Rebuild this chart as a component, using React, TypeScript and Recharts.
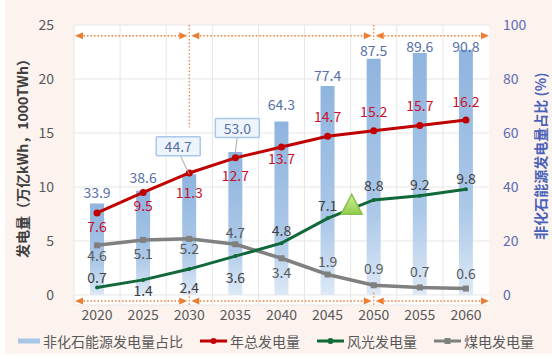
import React from "react";
import {
  Bar,
  CartesianGrid,
  ComposedChart,
  LabelList,
  Legend,
  Line,
  ReferenceLine,
  XAxis,
  YAxis,
} from "recharts";

const years = ["2020", "2025", "2030", "2035", "2040", "2045", "2050", "2055", "2060"];
const nonFossilShare = [33.9, 38.6, 44.7, 53.0, 64.3, 77.4, 87.5, 89.6, 90.8];
const totalGen = [7.6, 9.5, 11.3, 12.7, 13.7, 14.7, 15.2, 15.7, 16.2];
const windSolarGen = [0.7, 1.4, 2.4, 3.6, 4.8, 7.1, 8.8, 9.2, 9.8];
const coalGen = [4.6, 5.1, 5.2, 4.7, 3.4, 1.9, 0.9, 0.7, 0.6];
const leftTicks = [0, 5, 10, 15, 20, 25];
const rightTicks = [0, 20, 40, 60, 80, 100];
const milestones = ["2030", "2050"];

const data = years.map((year, i) => ({
  year,
  share: nonFossilShare[i],
  total: totalGen[i],
  windSolar: windSolarGen[i],
  coal: coalGen[i],
}));

// label nudges (px, text centre relative to the point)
const shareDy = [-11, -14, 0, 0, -17, -11, -9, -7, -4];
const totalDy = [13, 13, 19, 17, 11, -20, -20, -20, -19];
const windDy = [-10, 10, 18, 21, -13, -13, -15, -12, -11];
const coalDy = [10, 13, 9, -12, 14, -13, -17, -16, -16];

const FONT = '"Noto Sans CJK SC", "Microsoft YaHei", sans-serif';
const RED = "#c00000";
const GREEN = "#11693a";
const GRAY = "#808080";
const ORANGE = "#ed7d31";
const BLUE_TXT = "#5670a8";

const makeLineLabel = (dys: number[], color: string) => (props: any) => {
  const { x, y, value, index } = props;
  return (
    <text
      x={x}
      y={y + dys[index]}
      textAnchor="middle"
      dominantBaseline="central"
      fill={color}
      fontSize={14}
      fontFamily={FONT}
    >
      {Number(value).toFixed(1)}
    </text>
  );
};

const ShareLabel = (props: any) => {
  const { x, y, width, value, index } = props;
  const cx = x + width / 2;
  const txt = Number(value).toFixed(1);
  if (index === 2 || index === 3) {
    const bx = cx + (index === 2 ? -11 : 2);
    const by = y + (index === 2 ? -28 : -24);
    return (
      <g>
        <line x1={bx + (index === 2 ? 2 : 0)} y1={by + 9} x2={cx} y2={y} stroke="#a8a8a8" strokeWidth={1} />
        <rect x={bx - 22} y={by - 9.5} width={44} height={19} fill="#eef4fb" stroke="#a9c7ea" strokeWidth={1.5} rx={1} />
        <text x={bx} y={by} textAnchor="middle" dominantBaseline="central" fill={BLUE_TXT} fontSize={14} fontFamily={FONT}>
          {txt}
        </text>
      </g>
    );
  }
  return (
    <text x={cx} y={y + shareDy[index]} textAnchor="middle" dominantBaseline="central" fill={BLUE_TXT} fontSize={14} fontFamily={FONT}>
      {txt}
    </text>
  );
};

const SquareDot = (props: any) => {
  const { cx, cy, index } = props;
  return <rect key={`sq-${index}`} x={cx - 3} y={cy - 3} width={6} height={6} fill={GRAY} />;
};

const arrowHead = (tipX: number, y: number, dir: number, key: string) => (
  <path key={key} d={`M${tipX},${y} L${tipX - dir * 8},${y - 3.5} L${tipX - dir * 8},${y + 3.5} Z`} fill={ORANGE} />
);

// dotted double arrows split at the milestone years
const SpanArrows = (props: any) => {
  const { x1, x2, y1 } = props;
  const band = (x2 - x1) / years.length;
  const cuts = milestones.map((m) => x1 + (years.indexOf(m) + 0.5) * band);
  const pts = [x1 + 1, ...cuts, x2];
  const segs = [];
  for (let i = 0; i < pts.length - 1; i++) {
    const a = pts[i] + (i === 0 ? 0 : 2);
    const b = pts[i + 1] - (i === pts.length - 2 ? 0 : 2);
    segs.push(
      <g key={i}>
        <line x1={a + 5} y1={y1} x2={b - 5} y2={y1} stroke={ORANGE} strokeWidth={1.5} strokeDasharray="1.5 2" />
        {arrowHead(a, y1, -1, "l")}
        {arrowHead(b, y1, 1, "r")}
      </g>
    );
  }
  return <g>{segs}</g>;
};

const Triangle = (props: any) => {
  const { x1, x2, y1 } = props;
  const cx = (x1 + x2) / 2 + 1;
  return (
    <path
      d={`M${cx},${y1 - 11} L${cx + 10.5},${y1 + 9} L${cx - 10.5},${y1 + 9} Z`}
      fill="url(#triFill)"
      stroke="#86c34a"
      strokeWidth={1.5}
    />
  );
};

const LeftTitle = (props: any) => {
  const { viewBox } = props;
  const cx = viewBox.x + 22;
  const cy = viewBox.y + 130;
  return (
    <text
      x={cx}
      y={cy}
      transform={`rotate(-90, ${cx}, ${cy})`}
      textAnchor="middle"
      dominantBaseline="central"
      fill="#404040"
      fontSize={14}
      fontWeight="bold"
      fontFamily={FONT}
    >
      发电量（万亿kWh，1000TWh）
    </text>
  );
};

const RightTitle = (props: any) => {
  const { viewBox } = props;
  const cx = viewBox.x + 51;
  const cy = viewBox.y + 131;
  return (
    <text
      x={cx}
      y={cy}
      transform={`rotate(-90, ${cx}, ${cy})`}
      textAnchor="middle"
      dominantBaseline="central"
      fill="#4a62b8"
      fontSize={14}
      fontWeight="bold"
      fontFamily={FONT}
    >
      非化石能源发电量占比 (%)
    </text>
  );
};

const legendItems = [
  { name: "非化石能源发电量占比", color: "#a9c5e7", kind: "bar" },
  { name: "年总发电量", color: RED, kind: "circle" },
  { name: "风光发电量", color: GREEN, kind: "circle" },
  { name: "煤电发电量", color: GRAY, kind: "square" },
];

const LegendContent = () => (
  <div style={{ display: "flex", alignItems: "center", paddingLeft: 18, gap: 17, fontFamily: FONT, fontSize: 14, color: "#595959" }}>
    {legendItems.map((it) => (
      <div key={it.name} style={{ display: "flex", alignItems: "center" }}>
        <svg width={it.kind === "bar" ? 24 : 29} height={12} style={{ marginRight: 1 }}>
          {it.kind === "bar" ? (
            <rect x={0} y={3.5} width={22} height={5} fill={it.color} />
          ) : (
            <g>
              <line x1={0} y1={6} x2={27} y2={6} stroke={it.color} strokeWidth={3} />
              {it.kind === "circle" ? (
                <circle cx={13.5} cy={6} r={3} fill={it.color} />
              ) : (
                <rect x={10.5} y={3} width={6} height={6} fill={it.color} />
              )}
            </g>
          )}
        </svg>
        <span>{it.name}</span>
      </div>
    ))}
  </div>
);

export default function App() {
  return (
    <div style={{ position: "absolute", left: 0, top: 0, width: 552, height: 359, background: "#ffffff" }}>
      <div style={{ position: "absolute", left: 5, top: 0, width: 547, height: 354, background: "#fcf2ee" }} />
      <div style={{ position: "absolute", left: 0, top: 0 }}>
        <ComposedChart width={552} height={359} data={data} margin={{ top: 25, right: 0, bottom: 6, left: 0 }}>
          <defs>
            <linearGradient id="barFill" x1="0" y1="0" x2="0" y2="1">
              <stop offset="0%" stopColor="#8fb4de" />
              <stop offset="65%" stopColor="#abc8e8" />
              <stop offset="100%" stopColor="#dde9f6" />
            </linearGradient>
            <linearGradient id="triFill" x1="0" y1="0" x2="0" y2="1">
              <stop offset="0%" stopColor="#d3ef9c" />
              <stop offset="100%" stopColor="#92cc4a" />
            </linearGradient>
          </defs>
          <CartesianGrid
            yAxisId="left"
            fill="#ffffff"
            fillOpacity={1}
            stroke="#e6e6e6"
            verticalCoordinatesGenerator={({ offset }: any) =>
              years.map((_, i) => offset.left + (i * offset.width) / years.length)
            }
          />
          <XAxis
            dataKey="year"
            tickLine={false}
            axisLine={false}
            tickSize={0}
            tickMargin={5}
            height={26}
            interval={0}
            tick={{ fill: "#595959", fontSize: 14, fontFamily: FONT }}
          />
          <YAxis
            yAxisId="left"
            domain={[-0.926, 25]}
            ticks={leftTicks}
            allowDataOverflow
            width={74}
            tickLine={false}
            axisLine={false}
            tickSize={0}
            tickMargin={20}
            tick={{ fill: "#595959", fontSize: 14, fontFamily: FONT }}
            label={<LeftTitle />}
          />
          <YAxis
            yAxisId="right"
            orientation="right"
            domain={[-3.704, 100]}
            ticks={rightTicks}
            allowDataOverflow
            width={63}
            tickLine={false}
            axisLine={false}
            tickSize={0}
            tickMargin={14}
            tick={{ fill: "#5b6bb5", fontSize: 14, fontFamily: FONT }}
            label={<RightTitle />}
          />
          <Legend verticalAlign="bottom" content={<LegendContent />} wrapperStyle={{ left: 0, width: 552, height: 22 }} />
          <Bar yAxisId="right" dataKey="share" name="非化石能源发电量占比" barSize={14} fill="url(#barFill)" isAnimationActive={false}>
            <LabelList dataKey="share" content={ShareLabel} />
          </Bar>
          <ReferenceLine yAxisId="left" y={24.0} shape={SpanArrows} />
          <ReferenceLine yAxisId="left" y={-0.55} shape={SpanArrows} />
          <ReferenceLine
            yAxisId="left"
            segment={[{ x: "2030", y: 25 }, { x: "2030", y: 15.5 }]}
            stroke={ORANGE}
            strokeWidth={1.2}
            strokeDasharray="1.5 2"
          />
          <ReferenceLine
            yAxisId="left"
            segment={[{ x: "2050", y: 25 }, { x: "2050", y: 23.6 }]}
            stroke={ORANGE}
            strokeWidth={1.2}
            strokeDasharray="1.5 2"
          />
          <ReferenceLine
            yAxisId="left"
            segment={[{ x: "2030", y: 0.2 }, { x: "2030", y: -0.92 }]}
            stroke={ORANGE}
            strokeWidth={1.2}
            strokeDasharray="1.5 2"
          />
          <ReferenceLine
            yAxisId="left"
            segment={[{ x: "2050", y: 0.2 }, { x: "2050", y: -0.92 }]}
            stroke={ORANGE}
            strokeWidth={1.2}
            strokeDasharray="1.5 2"
          />
          <Line
            yAxisId="left"
            dataKey="coal"
            name="煤电发电量"
            stroke={GRAY}
            strokeWidth={3.5}
            dot={SquareDot}
            isAnimationActive={false}
          >
            <LabelList dataKey="coal" content={makeLineLabel(coalDy, "#595959")} />
          </Line>
          <Line
            yAxisId="left"
            dataKey="windSolar"
            name="风光发电量"
            stroke={GREEN}
            strokeWidth={3}
            dot={{ r: 2, fill: GREEN, stroke: "none" }}
            isAnimationActive={false}
          >
            <LabelList dataKey="windSolar" content={makeLineLabel(windDy, "#404040")} />
          </Line>
          <Line
            yAxisId="left"
            dataKey="total"
            name="年总发电量"
            stroke={RED}
            strokeWidth={3}
            dot={{ r: 3.5, fill: RED, stroke: "none" }}
            isAnimationActive={false}
          >
            <LabelList dataKey="total" content={makeLineLabel(totalDy, "#c8102e")} />
          </Line>
          <ReferenceLine yAxisId="left" segment={[{ x: "2045", y: 8.3 }, { x: "2050", y: 8.3 }]} shape={Triangle} />
        </ComposedChart>
      </div>
    </div>
  );
}
